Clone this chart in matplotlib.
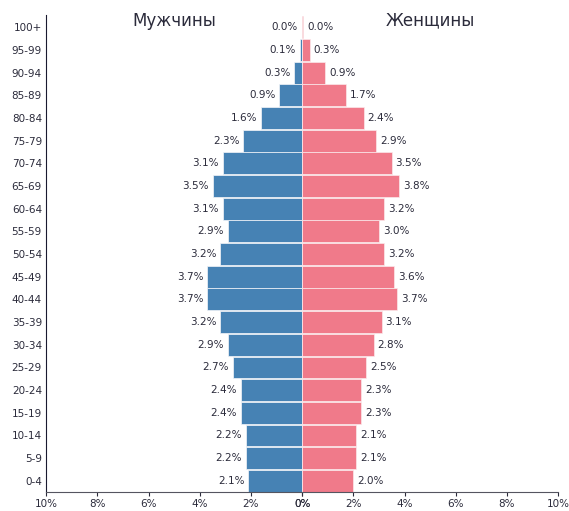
import matplotlib.pyplot as plt

ages = ["0-4", "5-9", "10-14", "15-19", "20-24", "25-29", "30-34", "35-39",
        "40-44", "45-49", "50-54", "55-59", "60-64", "65-69", "70-74",
        "75-79", "80-84", "85-89", "90-94", "95-99", "100+"]
men = [2.1, 2.2, 2.2, 2.4, 2.4, 2.7, 2.9, 3.2, 3.7, 3.7, 3.2, 2.9, 3.1,
       3.5, 3.1, 2.3, 1.6, 0.9, 0.3, 0.1, 0.01]
women = [2.0, 2.1, 2.1, 2.3, 2.3, 2.5, 2.8, 3.1, 3.7, 3.6, 3.2, 3.0, 3.2,
         3.8, 3.5, 2.9, 2.4, 1.7, 0.9, 0.3, 0.04]
ticks = [0, 2, 4, 6, 8, 10]

txt = "#2b2b3b"
blue = "#4682b4"
pink = "#f07a8a"

fig = plt.figure(figsize=(5.69, 5.11), dpi=100)
axl = fig.add_axes([0.081, 0.037, 0.45, 0.934])
axr = fig.add_axes([0.531, 0.037, 0.45, 0.934])

y = range(len(ages))
axl.barh(y, men, height=0.96, color=blue, edgecolor="#f4f6fa", linewidth=0.5)
axr.barh(y, women, height=0.96, color=pink, edgecolor="#fbe9ec", linewidth=0.5)

for i in y:
    axl.text(men[i] + 0.15, i, f"{men[i]:.1f}%", ha="right", va="center",
             fontsize=7.5, color=txt)
    axr.text(women[i] + 0.15, i, f"{women[i]:.1f}%", ha="left", va="center",
             fontsize=7.5, color=txt)

for ax in (axl, axr):
    ax.set_ylim(-0.5, 20.55)
    ax.set_xticks(ticks)
    ax.set_xticklabels([f"{t}%" for t in ticks])
    ax.tick_params(axis="x", labelsize=7.5, colors=txt, length=3, pad=2)
    ax.tick_params(axis="y", labelsize=7.5, colors=txt, length=0, pad=3)
    ax.spines["top"].set_visible(False)
    ax.spines["right"].set_visible(False)
    ax.spines["bottom"].set_color("#555560")
    ax.spines["left"].set_color("#1a1a30")

axl.set_xlim(10, 0)
axr.set_xlim(0, 10)
axl.set_yticks(list(y))
axl.set_yticklabels(ages)
axr.set_yticks([])
axr.spines["left"].set_visible(False)

axl.text(0.5, 0.988, "Мужчины", transform=axl.transAxes, ha="center",
         va="center", fontsize=12, color=txt)
axr.text(0.5, 0.988, "Женщины", transform=axr.transAxes, ha="center",
         va="center", fontsize=12, color=txt)

fig.savefig("out.png", dpi=100)
